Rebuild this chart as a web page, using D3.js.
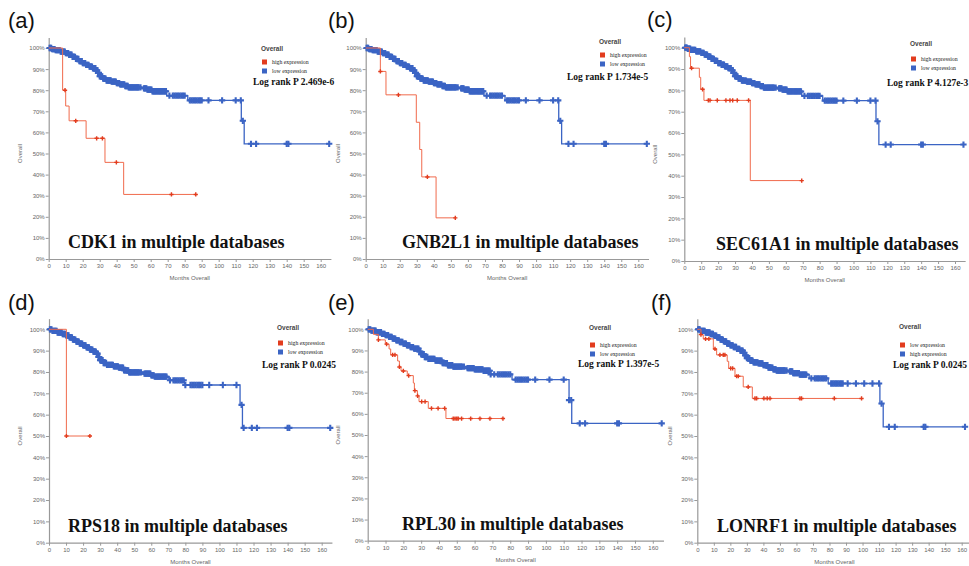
<!DOCTYPE html>
<html>
<head>
<meta charset="utf-8">
<script src="https://cdn.jsdelivr.net/npm/d3@7"></script>
<style>
  body { margin: 0; background: #fff; }
  svg { display: block; }
</style>
</head>
<body>
<script>
// tick labels
var xTicks = [0, 10, 20, 30, 40, 50, 60, 70, 80, 90, 100, 110, 120, 130, 140, 150, 160];
var yTicks = [0, 10, 20, 30, 40, 50, 60, 70, 80, 90, 100];

// panel texts
var letters = ["(a)", "(b)", "(c)", "(d)", "(e)", "(f)"];
var genes = ["CDK1", "GNB2L1", "SEC61A1", "RPS18", "RPL30", "LONRF1"];
var pValues = ["2.469e-6", "1.734e-5", "4.127e-3", "0.0245", "1.397e-5", "0.0245"];
var redNames = ["high expression", "high expression", "high expression", "high expression", "high expression", "low expression"];
var blueNames = ["low expression", "low expression", "low expression", "low expression", "low expression", "high expression"];

// survival steps: [month, percent surviving]
var blueABC = [[0,100],[2,99.5],[4,99],[7,98.3],[10,97.6],[12,96.8],[14,95.8],[16,94.8],[18,93.8],[20,92.8],[22,92],[24,91.2],[26,90.4],[28,89.4],[29,88.2],[30,86.6],[32,85.5],[34,84.6],[37,84.1],[40,83.4],[42,82.8],[45,82],[47,81.3],[56,80.9],[58,80.3],[61,79.5],[69.4,77.4],[81.8,75.2],[113.3,65.5],[115,54.6]];
var blueD = [[0,100],[2,99.3],[5,98.5],[8,97.8],[10,97.2],[12,96.2],[14,95.2],[16,94.2],[18,93.3],[20,92.5],[22,91.5],[24,90.5],[26,89.5],[28,88.6],[29,87],[30,85.5],[32,84.2],[34,83.3],[38,82.6],[41,82],[44,80.8],[47,79.8],[56,79.2],[60,78.4],[62,77.8],[70.3,76.1],[79.5,73.9],[112.1,64.6],[113.5,53.8]];
var blueE = [[0,100],[2,99.4],[5,98.6],[8,97.8],[10,97.2],[12,96.4],[14,95.6],[16,94.8],[18,94],[20,93.2],[22,92.4],[24,91.6],[26,90.9],[29,89.5],[30,88.2],[32,86.9],[34,86],[38,85.2],[42,84],[45,83],[48,82.3],[56,81.6],[60,81],[65,80.4],[69,78.7],[81,76.2],[113,66.5],[114.5,55.5]];
var blueF = [[0,100],[2,99.3],[5,98.5],[8,97.8],[10,97],[12,96.2],[14,95.2],[16,94.3],[18,93.3],[20,92.5],[22,91.7],[24,90.8],[26,90],[28,89],[29,87.8],[30,86.5],[32,85.3],[34,84.5],[37,84],[40,83.2],[43,82],[46,81.2],[48,80.7],[56,80.3],[58,79.5],[62,78.8],[67.7,77],[79.2,74.6],[110.5,65.2],[112.5,54.3]];

// censored months on the blue curves
var blueCensor = [0.5,1,1.5,2,2.5,3,3.5,4,4.5,5,5.5,6,6.5,7,7.5,8,8.5,9,9.5,10,10.5,11,11.5,12,12.5,13,13.5,14,14.5,15,15.5,16,16.5,17,17.5,18,18.5,19,19.5,20,20.5,21,21.5,22,22.5,23,23.5,24,24.5,25,25.5,26,26.5,27,27.5,28,28.5,29,29.5,30,30.5,31,31.5,32,32.5,33,33.5,34,34.5,35,35.5,36,36.5,37,37.5,38,38.5,39,39.5,40,40.5,41,41.5,42,42.5,43,43.5,44,44.5,45,45.5,46,46.5,47,47.5,48,48.5,49,49.5,50,50.5,51,51.5,52,52.5,53,54,56,56.5,57,57.5,58,58.5,59,59.5,60,60.5,61,61.5,62,62.5,63,63.5,64,64.5,65,65.5,66,66.5,67,67.5,68,68.5,69,71,73,74,75,76,77,78,79,80,83,84,85,86,87,88,89,90,94,102,110,113,114.2,119,122,140,141,165];
var blueCensorF = [0.5,1,1.5,2,2.5,3,3.5,4,4.5,5,5.5,6,6.5,7,7.5,8,8.5,9,9.5,10,10.5,11,11.5,12,12.5,13,13.5,14,14.5,15,15.5,16,16.5,17,17.5,18,18.5,19,19.5,20,20.5,21,21.5,22,22.5,23,23.5,24,24.5,25,25.5,26,26.5,27,27.5,28,28.5,29,29.5,30,30.5,31,31.5,32,32.5,33,33.5,34,34.5,35,35.5,36,36.5,37,37.5,38,38.5,39,39.5,40,40.5,41,41.5,42,42.5,43,43.5,44,44.5,45,45.5,46,46.5,47,47.5,48,48.5,49,49.5,50,50.5,51,51.5,52,52.5,53,54,56,56.5,57,57.5,58,58.5,59,59.5,60,60.5,61,61.5,62,62.5,63,63.5,64,64.5,65,65.5,66,69,71,72,73,74,75,76,77,78,81,82,83,84,85,86,87,88,91,96,101,106,110,111.5,116,119.5,137,138,162];

// red curves
var redA = [[0,100],[8.2,80],[10,72.5],[12,65.5],[22,57.2],[33.1,45.8],[44.1,30.6]];
var redACensor = [9.6,15.9,28.2,31.6,39.8,72.2,86.5];
var redB = [[0,100],[8.6,88.9],[11.9,77.8],[29.7,64.8],[31.7,51.9],[32.9,38.9],[41.3,19.5]];
var redBCensor = [8.6,19.2,36.2,52.6];
var redC = [[0,100],[3,95.8],[3.7,90.4],[8.9,86.1],[9.7,80.5],[11.6,75.3],[39,37.7]];
var redCCensor = [4.3,10.8,14.2,15.2,19.5,24.6,27,28.6,31.3,38,69.4];
var redD = [[0,100],[10.2,50]];
var redDCensor = [10.2,24];
var redE = [[0,100],[3.2,97.6],[6,95],[9.9,93],[12,90.7],[12.9,87.9],[16.8,85],[17.8,82.2],[18.7,80.3],[22.2,78.1],[25.6,74.6],[26.2,71],[27.9,68.5],[28.8,65.8],[34,62.6],[43.9,57.8]];
var redECensor = [6,10.6,14,15.3,17.8,20,23,26.5,28,30.3,32.2,35.8,39.5,43.2,48,49,50,50.8,52.7,57.8,63,68.6,75.9];
var redF = [[0,100],[2.2,97.5],[3.6,95.5],[9.7,90.8],[11.7,88],[18.1,85],[19,81.7],[22.8,78],[27.8,73],[33.3,67.6]];
var redFCensor = [2.2,5,7,10.7,13.7,15.7,16.7,20.2,21.4,23.8,24.8,30.8,34.9,35.9,40.3,42.3,44,62.1,63.1,82.9,99.4];

var blueSteps = [blueABC, blueABC, blueABC, blueD, blueE, blueF];
var blueMarks = [blueCensor, blueCensor, blueCensor, blueCensor, blueCensor, blueCensorF];
var redSteps = [redA, redB, redC, redD, redE, redF];
var redMarks = [redACensor, redBCensor, redCCensor, redDCensor, redECensor, redFCensor];

// where each panel sits on the page
var layout = [
  { x0: 48.7,  x160: 320.7, y0: 259,   y100: 48,    lx: 8,   ly: 28,  tx: 68,  ty: 248, ylab: 22,  ovx: 261, ovy: 51,  sqy: 62,  lrx: 253, lry: 85 },
  { x0: 365.7, x160: 638.3, y0: 259,   y100: 48,    lx: 328, ly: 28,  tx: 402, ty: 248, ylab: 340, ovx: 599, ovy: 44,  sqy: 55,  lrx: 567, lry: 80 },
  { x0: 684.3, x160: 955,   y0: 261,   y100: 47.7,  lx: 647, ly: 27,  tx: 716, ty: 250, ylab: 657, ovx: 910, ovy: 46,  sqy: 59,  lrx: 887, lry: 86 },
  { x0: 49,    x160: 321.7, y0: 542.7, y100: 329.3, lx: 8,   ly: 310, tx: 68,  ty: 532, ylab: 22,  ovx: 277, ovy: 330, sqy: 343, lrx: 262, lry: 368 },
  { x0: 367.7, x160: 652.8, y0: 540.7, y100: 329.3, lx: 328, ly: 310, tx: 402, ty: 530, ylab: 340, ovx: 589, ovy: 330, sqy: 345, lrx: 578, lry: 367 },
  { x0: 697.3, x160: 961.7, y0: 542.7, y100: 329.3, lx: 651, ly: 310, tx: 717, ty: 532, ylab: 672, ovx: 899, ovy: 329, sqy: 345, lrx: 893, lry: 368 }
];

var blue = "#3b64c4", redLine = "#f06a4c", redMark = "#e23c1e";

var svg = d3.select("body").append("svg")
    .attr("width", 969)
    .attr("height", 566);

// value of a step curve at a given month
function survAt(steps, t) {
  var s = steps[0][1];
  steps.forEach(function(p) { if (p[0] <= t) s = p[1]; });
  return s;
}

layout.forEach(function(L, i) {
  var g = svg.append("g");

  var x = d3.scaleLinear().domain([0, 160]).range([L.x0, L.x160]);
  var y = d3.scaleLinear().domain([0, 100]).range([L.y0, L.y100]);
  // axes run a bit past the last tick, like the original
  var xa = d3.scaleLinear().domain([0, 166]).range([L.x0, x(166)]);
  var ya = d3.scaleLinear().domain([0, 105]).range([L.y0, y(105)]);

  var xAxis = g.append("g")
      .attr("transform", "translate(0," + L.y0 + ")")
      .call(d3.axisBottom(xa).tickValues(xTicks).tickSize(3).tickSizeOuter(0).tickPadding(2));
  var yAxis = g.append("g")
      .attr("transform", "translate(" + L.x0 + ",0)")
      .call(d3.axisLeft(ya).tickValues(yTicks).tickSize(3).tickSizeOuter(0).tickPadding(1)
        .tickFormat(function(d) { return d + "%"; }));

  [xAxis, yAxis].forEach(function(a) {
    a.select(".domain").attr("stroke", "#999").attr("stroke-width", 1.2);
    a.selectAll(".tick line").attr("stroke", "#999");
    a.selectAll(".tick text")
      .attr("fill", "#666")
      .style("font-family", "Liberation Sans, Arial, sans-serif")
      .style("font-size", "6px");
  });

  // axis titles
  g.append("text")
      .attr("x", (L.x0 + x(166)) / 2)
      .attr("y", L.y0 + 21)
      .attr("text-anchor", "middle")
      .attr("fill", "#666")
      .style("font-family", "Liberation Sans, Arial, sans-serif")
      .style("font-size", "6px")
      .text("Months Overall");
  g.append("text")
      .attr("transform", "translate(" + L.ylab + "," + ((L.y0 + L.y100) / 2) + ") rotate(-90)")
      .attr("text-anchor", "middle")
      .attr("fill", "#666")
      .style("font-family", "Liberation Sans, Arial, sans-serif")
      .style("font-size", "6px")
      .text("Overall");

  var line = d3.line()
      .x(function(d) { return x(d[0]); })
      .y(function(d) { return y(d[1]); })
      .curve(d3.curveStepAfter);

  function drawCurve(steps, marks, lineColor, markColor, lw, msize) {
    var end = d3.max(marks);
    var pts = steps.concat([[end, steps[steps.length - 1][1]]]);
    g.append("path")
        .datum(pts)
        .attr("d", line)
        .attr("fill", "none")
        .attr("stroke", lineColor)
        .attr("stroke-width", lw);
    g.selectAll(null)
        .data(marks)
        .enter().append("path")
        .attr("d", d3.symbol(d3.symbolCross, msize))
        .attr("transform", function(t) { return "translate(" + x(t) + "," + y(survAt(steps, t)) + ")"; })
        .attr("fill", markColor);
  }

  drawCurve(blueSteps[i], blueMarks[i], blue, blue, 1.3, 22);
  drawCurve(redSteps[i], redMarks[i], redLine, redMark, 1, 10);

  // legend
  g.append("text")
      .attr("x", L.ovx).attr("y", L.ovy)
      .attr("fill", "#444")
      .style("font-family", "Liberation Sans, Arial, sans-serif")
      .style("font-size", "6.5px")
      .style("font-weight", "bold")
      .text("Overall");
  [[redNames[i], redMark], [blueNames[i], blue]].forEach(function(e, k) {
    var cy = L.sqy + k * 9;
    g.append("rect")
        .attr("x", L.ovx + 1).attr("y", cy - 2.5)
        .attr("width", 5).attr("height", 5)
        .attr("fill", e[1]);
    g.append("text")
        .attr("x", L.ovx + 11).attr("y", cy + 2)
        .attr("fill", "#222")
        .style("font-family", "Liberation Serif, Times New Roman, serif")
        .style("font-size", "5.8px")
        .text(e[0]);
  });
  g.append("text")
      .attr("x", L.lrx).attr("y", L.lry)
      .attr("fill", "#111")
      .style("font-family", "Liberation Serif, Times New Roman, serif")
      .style("font-size", "9.5px")
      .style("font-weight", "bold")
      .text("Log rank P " + pValues[i]);

  // big title
  g.append("text")
      .attr("x", L.tx).attr("y", L.ty)
      .attr("fill", "#111")
      .style("font-family", "Liberation Serif, Times New Roman, serif")
      .style("font-size", "18px")
      .style("font-weight", "bold")
      .text(genes[i] + " in multiple databases");

  // panel letter
  g.append("text")
      .attr("x", L.lx).attr("y", L.ly)
      .attr("fill", "#111")
      .style("font-family", "Liberation Sans, Arial, sans-serif")
      .style("font-size", "22px")
      .text(letters[i]);
});
</script>
</body>
</html>
